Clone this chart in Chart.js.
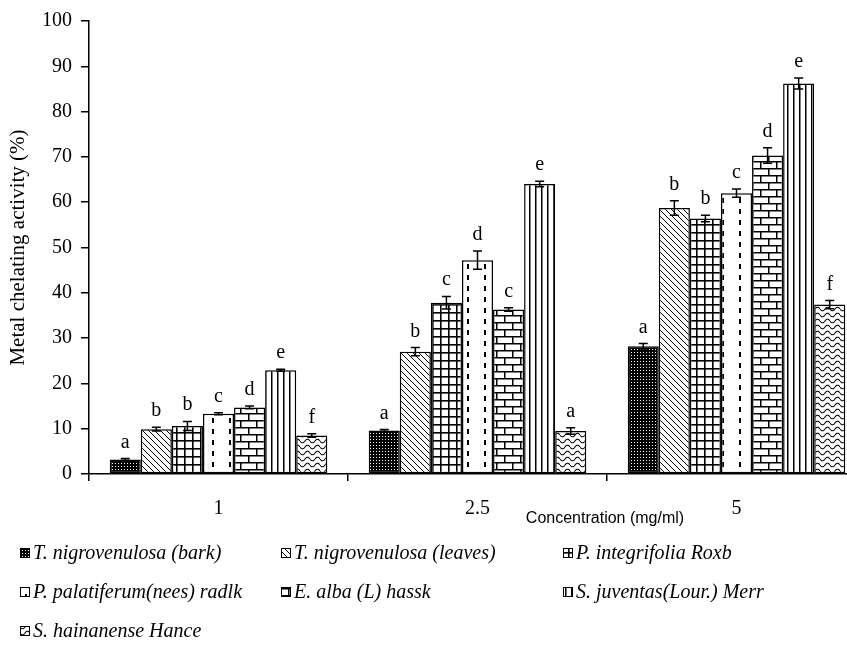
<!DOCTYPE html>
<html>
<head>
<meta charset="utf-8">
<script src="https://cdn.jsdelivr.net/npm/chart.js@4.4.1/dist/chart.umd.min.js"></script>
<style>
  html, body { margin: 0; padding: 0; background: #fff; overflow: hidden; width: 847px; height: 648px; }
  #wrap { position: relative; width: 880px; height: 648px; }
</style>
</head>
<body>
<div id="wrap"><canvas id="chart" width="880" height="648"></canvas></div>
<script>
// Concentrations tested (mg/ml)
const concentrations = ['1', '2.5', '5'];
const yTicks = [0, 10, 20, 30, 40, 50, 60, 70, 80, 90, 100];

// Extracts
const extracts = [
  'T. nigrovenulosa (bark)',
  'T. nigrovenulosa (leaves)',
  'P. integrifolia Roxb',
  'P. palatiferum(nees) radlk',
  'E. alba (L) hassk',
  'S. juventas(Lour.) Merr',
  'S. hainanense Hance'
];

// Metal chelating activity (%) per extract, at 1 / 2.5 / 5 mg/ml
const barkValues      = [3.2, 9.6, 28.2];
const leavesValues    = [9.9, 27.0, 58.7];
const integrifolia    = [10.6, 37.8, 56.4];
const palatiferum     = [13.3, 47.2, 62.0];
const albaValues      = [14.7, 36.3, 70.3];
const juventasValues  = [22.9, 64.0, 86.2];
const hainanense      = [8.5, 9.5, 37.4];

// Standard deviations
const barkErr      = [0.2, 0.2, 0.6];
const leavesErr    = [0.4, 0.9, 1.6];
const integErr     = [1.0, 1.4, 0.7];
const palatErr     = [0.2, 2.0, 0.9];
const albaErr      = [0.3, 0.4, 1.7];
const juventasErr  = [0.2, 0.6, 1.2];
const hainErr      = [0.4, 0.7, 0.9];

// Significance letters
const barkLetters     = ['a', 'a', 'a'];
const leavesLetters   = ['b', 'b', 'b'];
const integLetters    = ['b', 'c', 'b'];
const palatLetters    = ['c', 'd', 'c'];
const albaLetters     = ['d', 'c', 'd'];
const juventasLetters = ['e', 'e', 'e'];
const hainLetters     = ['f', 'a', 'f'];

// ---- fill patterns ----
function tile(w, h, draw) {
  const c = document.createElement('canvas');
  c.width = w; c.height = h;
  const g = c.getContext('2d');
  g.fillStyle = '#fff'; g.fillRect(0, 0, w, h);
  g.strokeStyle = '#000'; g.fillStyle = '#000';
  draw(g, w, h);
  return c;
}
const patternTiles = [
  // dense dark mesh
  tile(3, 3, (g) => { g.fillRect(0, 0, 3, 3); g.fillStyle = '#fff'; g.fillRect(1, 1, 1, 1); }),
  // backslash hatching
  tile(6, 6, (g) => {
    g.lineWidth = 1;
    g.beginPath();
    g.moveTo(-1, -1); g.lineTo(7, 7);
    g.moveTo(-7, -1); g.lineTo(1, 7);
    g.moveTo(5, -1); g.lineTo(13, 7);
    g.stroke();
  }),
  // square grid
  tile(8, 8, (g) => { g.fillRect(0, 0, 8, 1.6); g.fillRect(0, 0, 1.6, 8); }),
  // vertical dashes
  tile(17, 11, (g) => { g.fillRect(8, 0, 2, 5); }),
  // brick
  tile(16, 14, (g) => {
    g.fillRect(0, 0, 16, 1.5); g.fillRect(0, 7, 16, 1.5);
    g.fillRect(0, 0, 1.5, 7); g.fillRect(8, 7, 1.5, 7);
  }),
  // vertical lines
  tile(6, 4, (g) => { g.fillRect(1, 0, 1.5, 4); }),
  // wavy lines
  tile(10, 6, (g) => {
    g.lineWidth = 1.1;
    g.beginPath();
    for (let x = 0; x <= 10; x += 0.5) {
      const y = 3 + 1.8 * Math.sin((x / 10) * Math.PI * 2);
      if (x === 0) g.moveTo(x, y); else g.lineTo(x, y);
    }
    g.stroke();
  })
];
const ctx0 = document.getElementById('chart').getContext('2d');
const patterns = patternTiles.map(t => ctx0.createPattern(t, 'repeat'));

const seriesValues = [barkValues, leavesValues, integrifolia, palatiferum, albaValues, juventasValues, hainanense];
const seriesErrors = [barkErr, leavesErr, integErr, palatErr, albaErr, juventasErr, hainErr];
const seriesLetters = [barkLetters, leavesLetters, integLetters, palatLetters, albaLetters, juventasLetters, hainLetters];

const datasets = extracts.map((name, i) => ({
  label: name,
  data: seriesValues[i],
  errors: seriesErrors[i],
  letters: seriesLetters[i],
  backgroundColor: patterns[i],
  borderColor: '#000',
  borderWidth: 1.5,
  borderSkipped: false,
  categoryPercentage: 0.84,
  barPercentage: 1.0
}));

const SERIF = '"Liberation Serif", "Times New Roman", serif';

// error bars + letters above each bar
const errorBarPlugin = {
  id: 'errorBars',
  afterDatasetsDraw(chart) {
    const { ctx, scales: { y } } = chart;
    ctx.save();
    chart.data.datasets.forEach((ds, di) => {
      const meta = chart.getDatasetMeta(di);
      meta.data.forEach((bar, i) => {
        const v = ds.data[i], e = ds.errors[i];
        const yTop = y.getPixelForValue(v + e);
        const yBot = y.getPixelForValue(v - e);
        ctx.strokeStyle = '#000';
        ctx.lineWidth = 1.5;
        ctx.beginPath();
        ctx.moveTo(bar.x, yTop); ctx.lineTo(bar.x, yBot);
        ctx.moveTo(bar.x - 4.5, yTop); ctx.lineTo(bar.x + 4.5, yTop);
        ctx.moveTo(bar.x - 4.5, yBot); ctx.lineTo(bar.x + 4.5, yBot);
        ctx.stroke();
        ctx.fillStyle = '#000';
        ctx.font = '20px ' + SERIF;
        ctx.textAlign = 'center';
        ctx.textBaseline = 'alphabetic';
        ctx.fillText(ds.letters[i], bar.x, yTop - 11);
      });
    });
    ctx.restore();
  }
};

// x-axis title and the three-column legend under the plot
const legendPlugin = {
  id: 'bottomLegend',
  afterDraw(chart) {
    const { ctx } = chart;
    ctx.save();
    ctx.fillStyle = '#000';
    ctx.font = '16px "Liberation Sans", Arial, sans-serif';
    ctx.textAlign = 'center';
    ctx.textBaseline = 'middle';
    ctx.fillText('Concentration (mg/ml)', 605, 519);

    const cols = [20, 281, 563];
    const rows = [553, 592, 631];
    ctx.font = 'italic 20px ' + SERIF;
    ctx.textAlign = 'left';
    chart.data.datasets.forEach((ds, i) => {
      const x = cols[i % 3], yc = rows[Math.floor(i / 3)];
      ctx.fillStyle = ds.backgroundColor;
      ctx.fillRect(x, yc - 5, 10, 10);
      ctx.strokeStyle = '#000';
      ctx.lineWidth = 1;
      ctx.strokeRect(x + 0.5, yc - 4.5, 9, 9);
      ctx.fillStyle = '#000';
      ctx.fillText(ds.label, x + 13, yc + 1);
    });
    ctx.restore();
  }
};

new Chart(ctx0, {
  type: 'bar',
  data: { labels: concentrations, datasets },
  options: {
    responsive: false,
    animation: false,
    layout: { padding: { top: 20, right: 14, bottom: 0, left: 0 } },
    plugins: { legend: { display: false }, tooltip: { enabled: false } },
    scales: {
      x: {
        grid: { display: true, drawOnChartArea: false, drawTicks: true, tickLength: 7, color: '#000', lineWidth: 1.5, offset: true },
        border: { display: true, color: '#000', width: 1.5 },
        ticks: { color: '#000', font: { family: SERIF, size: 20 }, padding: 16 },
        afterFit(s) { s.height = 174; }
      },
      y: {
        min: 0, max: 100,
        afterBuildTicks(s) { s.ticks = yTicks.map(v => ({ value: v })); },
        grid: { display: true, drawOnChartArea: false, drawTicks: true, tickLength: 8, color: '#000', lineWidth: 1.5 },
        border: { display: true, color: '#000', width: 1.5 },
        ticks: { color: '#000', font: { family: SERIF, size: 20 }, padding: 9 },
        title: { display: true, text: 'Metal chelating activity (%)', color: '#000', font: { family: SERIF, size: 21 }, padding: { top: 6, bottom: 0 } },
        afterFit(s) { s.width = 89; }
      }
    }
  },
  plugins: [errorBarPlugin, legendPlugin]
});
</script>
</body>
</html>
